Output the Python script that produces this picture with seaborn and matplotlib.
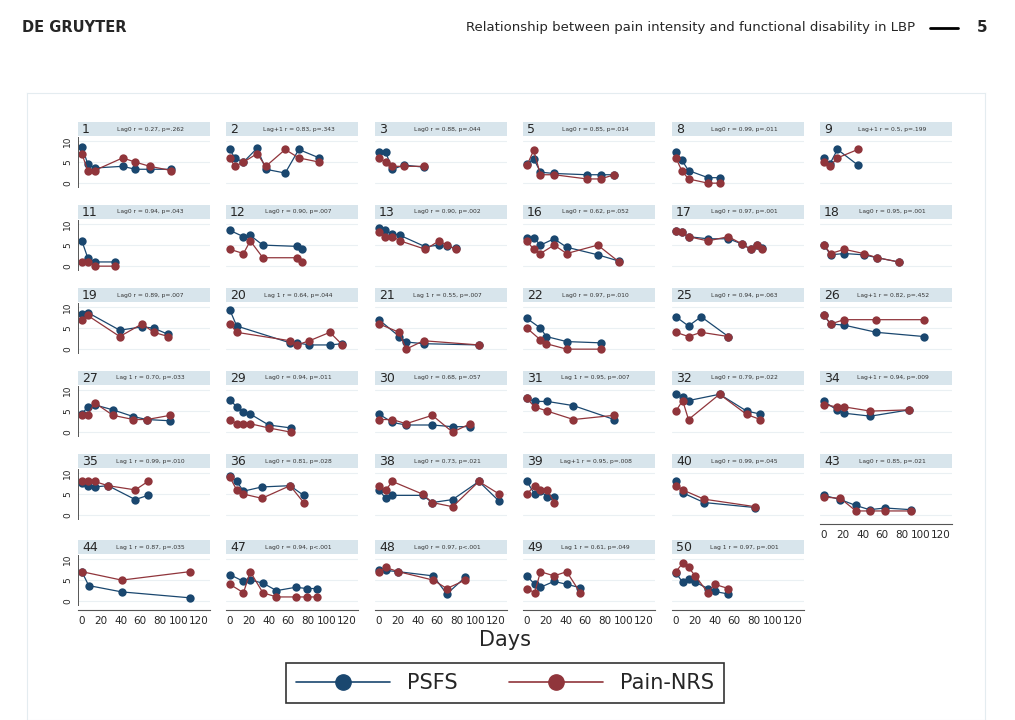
import numpy as np
import pandas as pd
import matplotlib
matplotlib.use("Agg")
import matplotlib.pyplot as plt
import seaborn as sns
from matplotlib.lines import Line2D

# ---- data (days, PSFS, Pain-NRS) ----
ids = [1, 2, 3, 5, 8, 9, 11, 12, 13, 16, 17, 18, 19, 20, 21, 22, 25, 26,
       27, 29, 30, 31, 32, 34, 35, 36, 38, 39, 40, 43, 44, 47, 48, 49, 50]
labels = {
    1: "Lag0 r = 0.27, p=.262", 2: "Lag+1 r = 0.83, p=.343", 3: "Lag0 r = 0.88, p=.044",
    5: "Lag0 r = 0.85, p=.014", 8: "Lag0 r = 0.99, p=.011", 9: "Lag+1 r = 0.5, p=.199",
    11: "Lag0 r = 0.94, p=.043", 12: "Lag0 r = 0.90, p=.007", 13: "Lag0 r = 0.90, p=.002",
    16: "Lag0 r = 0.62, p=.052", 17: "Lag0 r = 0.97, p=.001", 18: "Lag0 r = 0.95, p=.001",
    19: "Lag0 r = 0.89, p=.007", 20: "Lag 1 r = 0.64, p=.044", 21: "Lag 1 r = 0.55, p=.007",
    22: "Lag0 r = 0.97, p=.010", 25: "Lag0 r = 0.94, p=.063", 26: "Lag+1 r = 0.82, p=.452",
    27: "Lag 1 r = 0.70, p=.033", 29: "Lag0 r = 0.94, p=.011", 30: "Lag0 r = 0.68, p=.057",
    31: "Lag 1 r = 0.95, p=.007", 32: "Lag0 r = 0.79, p=.022", 34: "Lag+1 r = 0.94, p=.009",
    35: "Lag 1 r = 0.99, p=.010", 36: "Lag0 r = 0.81, p=.028", 38: "Lag0 r = 0.73, p=.021",
    39: "Lag+1 r = 0.95, p=.008", 40: "Lag0 r = 0.99, p=.045", 43: "Lag0 r = 0.85, p=.021",
    44: "Lag 1 r = 0.87, p=.035", 47: "Lag0 r = 0.94, p<.001", 48: "Lag0 r = 0.97, p<.001",
    49: "Lag 1 r = 0.61, p=.049", 50: "Lag 1 r = 0.97, p=.001",
}
psfs = {
    1: ([0, 6, 13, 42, 55, 70, 92], [8.7, 4.6, 3.6, 4, 3.3, 3.3, 3.3]),
    2: ([0, 5, 14, 28, 37, 57, 71, 92], [8, 6, 5, 8.3, 3.3, 2.4, 8, 6]),
    3: ([0, 7, 14, 26, 46], [7.3, 7.3, 3.3, 4.3, 3.8]),
    5: ([0, 7, 14, 28, 62, 76, 90], [4.5, 5.8, 2.6, 2.3, 2, 2, 2]),
    8: ([0, 6, 13, 33, 45], [7.5, 5.5, 3, 1.3, 1.3]),
    9: ([0, 6, 14, 35], [6, 4.5, 8, 4.3]),
    11: ([0, 6, 13, 34], [6, 2, 1, 1]),
    12: ([0, 14, 21, 34, 69, 74], [8.5, 7, 7.3, 5, 4.7, 4]),
    13: ([0, 6, 14, 22, 48, 62, 70, 79], [9, 8.5, 7.7, 7.3, 4.6, 5, 4.7, 4.3]),
    16: ([0, 7, 14, 28, 41, 73, 95], [6.7, 6.7, 5, 6.5, 4.5, 2.7, 1.2]),
    17: ([0, 6, 13, 33, 54, 68, 77, 84, 89], [8.3, 8, 7, 6.5, 6.5, 5.3, 4, 5, 4.3]),
    18: ([0, 7, 21, 41, 55, 77], [5, 2.7, 3, 2.7, 2, 1]),
    19: ([0, 6, 39, 62, 74, 89], [8.3, 8.7, 4.5, 5.3, 5, 3.5]),
    20: ([0, 7, 62, 69, 82, 103, 116], [9.3, 5.5, 1.5, 1.5, 1, 1, 1.3]),
    21: ([0, 21, 28, 46, 103], [7, 3, 1.7, 1.3, 1]),
    22: ([0, 14, 20, 41, 76], [7.3, 5, 3, 1.8, 1.5]),
    25: ([0, 13, 26, 54], [7.7, 5.5, 7.7, 3]),
    26: ([0, 7, 21, 54, 103], [8, 6, 5.7, 4, 3]),
    27: ([0, 6, 13, 32, 53, 67, 91], [4.3, 6, 6.5, 5.3, 3.7, 3, 2.7]),
    29: ([0, 7, 14, 21, 40, 63], [7.7, 6, 4.7, 4.3, 1.7, 1]),
    30: ([0, 14, 28, 55, 76, 94], [4.3, 2.3, 1.7, 1.7, 1.3, 1.3]),
    31: ([0, 8, 21, 48, 90], [8, 7.3, 7.3, 6.3, 3]),
    32: ([0, 7, 13, 45, 73, 87], [9, 8.3, 7.5, 9, 5, 4.3]),
    34: ([0, 14, 21, 48, 88], [7.3, 5.2, 4.5, 3.8, 5.3]),
    35: ([0, 6, 13, 27, 55, 68], [7.7, 7, 6.7, 7, 3.7, 4.7]),
    36: ([0, 7, 14, 33, 62, 76], [9.3, 8, 5.7, 6.7, 7, 4.7]),
    38: ([0, 7, 14, 45, 55, 76, 103, 124], [6, 4, 4.7, 4.7, 3, 3.7, 8, 3.3]),
    39: ([0, 8, 14, 21, 28], [8, 5, 5.8, 4.3, 4.3]),
    40: ([0, 7, 29, 82], [8, 5.3, 3, 1.8]),
    43: ([0, 17, 33, 47, 63, 90], [4.7, 3.7, 2.3, 1.3, 1.7, 1.3]),
    44: ([0, 7, 41, 111], [7, 3.7, 2.2, 0.8]),
    47: ([0, 14, 21, 34, 48, 68, 79, 90], [6.3, 4.7, 5, 4.3, 2.5, 3.3, 3, 3]),
    48: ([0, 7, 20, 56, 70, 89], [7.3, 7.3, 7, 6, 1.7, 5.7]),
    49: ([0, 8, 14, 28, 41, 55], [6, 4, 3.3, 4.7, 4, 3.2]),
    50: ([0, 7, 13, 20, 33, 40, 54], [6.7, 4.5, 5.3, 4.5, 3, 2.3, 1.7]),
}
pain = {
    1: ([0, 6, 13, 42, 55, 70, 92], [7, 3, 3, 6, 5, 4, 3]),
    2: ([0, 5, 14, 28, 37, 57, 71, 92], [6, 4, 5, 7, 4, 8, 6, 5]),
    3: ([0, 7, 14, 26, 46], [6, 5, 4, 4, 4]),
    5: ([0, 7, 14, 28, 62, 76, 90], [4.2, 7.8, 2, 2, 1, 1, 2]),
    8: ([0, 6, 13, 33, 45], [6, 3, 1, 0, 0]),
    9: ([0, 6, 14, 35], [5, 4, 6, 8]),
    11: ([0, 6, 13, 34], [1, 1, 0, 0]),
    12: ([0, 14, 21, 34, 69, 74], [4, 3, 6, 2, 2, 1]),
    13: ([0, 6, 14, 22, 48, 62, 70, 79], [8, 7, 7, 6, 4, 6, 5, 4]),
    16: ([0, 7, 14, 28, 41, 73, 95], [6, 4, 3, 5, 3, 5, 1]),
    17: ([0, 6, 13, 33, 54, 68, 77, 84, 89], [8.3, 8, 7, 6, 7, 5.3, 4, 5, 4]),
    18: ([0, 7, 21, 41, 55, 77], [5, 3, 4, 3, 2, 1]),
    19: ([0, 6, 39, 62, 74, 89], [7, 8, 3, 6, 4, 3]),
    20: ([0, 7, 62, 69, 82, 103, 116], [6, 4, 2, 1, 2, 4, 1]),
    21: ([0, 21, 28, 46, 103], [6, 4, 0, 2, 1]),
    22: ([0, 14, 20, 41, 76], [5, 2.2, 1.3, 0, 0]),
    25: ([0, 13, 26, 54], [4, 3, 4, 3]),
    26: ([0, 7, 21, 54, 103], [8, 6, 7, 7, 7]),
    27: ([0, 6, 13, 32, 53, 67, 91], [4, 4, 7, 4, 3, 3, 4]),
    29: ([0, 7, 14, 21, 40, 63], [3, 2, 2, 2, 1, 0]),
    30: ([0, 14, 28, 55, 76, 94], [3, 3, 2, 4, 0, 2]),
    31: ([0, 8, 21, 48, 90], [8, 6, 5, 3, 4]),
    32: ([0, 7, 13, 45, 73, 87], [5, 7.5, 3, 9, 4.2, 3]),
    34: ([0, 14, 21, 48, 88], [6.5, 6, 6, 5, 5.3]),
    35: ([0, 6, 13, 27, 55, 68], [8, 8, 8, 7, 6, 8]),
    36: ([0, 7, 14, 33, 62, 76], [9, 6, 5, 4, 7, 3]),
    38: ([0, 7, 14, 45, 55, 76, 103, 124], [7, 6, 8, 5, 3, 2, 8, 5]),
    39: ([0, 8, 14, 21, 28], [5, 7, 6, 6, 3]),
    40: ([0, 7, 29, 82], [7, 6, 3.8, 2]),
    43: ([0, 17, 33, 47, 63, 90], [4.3, 4, 1, 1, 1, 1]),
    44: ([0, 41, 111], [7, 5, 7]),
    47: ([0, 14, 21, 34, 48, 68, 79, 90], [4, 2, 7, 2, 1, 1, 1, 1]),
    48: ([0, 7, 20, 56, 70, 89], [7, 8, 7, 5, 3, 5]),
    49: ([0, 8, 14, 28, 41, 55], [3, 2, 7, 6, 7, 2]),
    50: ([0, 7, 13, 20, 33, 40, 54], [7, 9, 8, 6, 2, 4, 3]),
}

rows = []
for pid in ids:
    for d, v in zip(*psfs[pid]):
        rows.append((pid, d, v, "PSFS"))
    for d, v in zip(*pain[pid]):
        rows.append((pid, d, v, "Pain-NRS"))
df = pd.DataFrame(rows, columns=["id", "day", "score", "measure"])

palette = {"PSFS": "#1a476f", "Pain-NRS": "#90353b"}

sns.set_style("white")
W, H = 1015, 720
fig = plt.figure(figsize=(W / 100, H / 100), dpi=100)

def fr(x, y, w, h):
    return [x / W, 1 - (y + h) / H, w / W, h / H]

# header
fig.text(22 / W, 1 - 28 / H, "DE GRUYTER", fontsize=10.5, fontweight="bold", va="center")
fig.text(915 / W, 1 - 28 / H, "Relationship between pain intensity and functional disability in LBP",
         fontsize=9.5, ha="right", va="center")
fig.add_artist(Line2D([930 / W, 958 / W], [1 - 28 / H] * 2, color="black", lw=2))
fig.text(982 / W, 1 - 28 / H, "5", fontsize=11, fontweight="bold", ha="center", va="center")

# outer frame of the figure panel
frame = fig.add_axes(fr(27, 93, 958, 627))
frame.set_xticks([]); frame.set_yticks([])
for s in frame.spines.values():
    s.set_color("#e4ecf0")
frame.set_zorder(-5)

col_x = [78, 226, 375, 523, 672, 820]
row_y = [122, 205, 288, 371, 454, 540]
bottom_ids = {43, 44, 47, 48, 49, 50}

for k, pid in enumerate(ids):
    r, c = divmod(k, 6)
    x0, y0 = col_x[c], row_y[r]
    strip = fig.add_axes(fr(x0, y0, 132, 14))
    strip.set_facecolor("#d8e5ec")
    strip.set_xticks([]); strip.set_yticks([])
    for s in strip.spines.values():
        s.set_visible(False)
    strip.text(0.03, 0.45, str(pid), fontsize=9, va="center", transform=strip.transAxes)
    strip.text(0.55, 0.5, labels[pid], fontsize=4.3, va="center", ha="center",
               color="#333333", transform=strip.transAxes)

    ax = fig.add_axes(fr(x0, y0 + 14, 132, 56))
    sub = df[df["id"] == pid]
    sns.lineplot(data=sub, x="day", y="score", hue="measure", palette=palette,
                 marker="o", markersize=6, markeredgewidth=0, linewidth=0.9,
                 legend=False, ax=ax, estimator=None, sort=False)
    ax.set_xlim(-4, 132)
    ax.set_ylim(-2.1, 11.2)
    ax.set_xlabel(""); ax.set_ylabel("")
    for yv in [0, 5, 10]:
        ax.axhline(yv, color="#eaf0f3", lw=0.8, zorder=0)
    for s in ax.spines.values():
        s.set_visible(False)
    if c == 0:
        ax.spines["left"].set_visible(True)
        ax.spines["left"].set_bounds(-1, 11)
        ax.spines["left"].set_color("#555555")
        ax.spines["left"].set_linewidth(0.7)
        ax.set_yticks([0, 5, 10])
        ax.set_yticklabels(["0", "5", "10"], rotation=90, va="center", fontsize=6.5)
        ax.tick_params(axis="y", length=3, width=0.6, pad=1)
    else:
        ax.set_yticks([])
    if pid in bottom_ids:
        ax.spines["bottom"].set_visible(True)
        ax.spines["bottom"].set_color("#555555")
        ax.spines["bottom"].set_linewidth(0.8)
        ax.set_xticks([0, 20, 40, 60, 80, 100, 120])
        ax.tick_params(axis="x", labelsize=7.5, length=3, width=0.6, pad=1)
    else:
        ax.set_xticks([])

fig.text(505 / W, 1 - 640 / H, "Days", fontsize=15, ha="center", va="center")

handles = [Line2D([], [], color=palette["PSFS"], marker="o", markersize=11, lw=1.2),
           Line2D([], [], color=palette["Pain-NRS"], marker="o", markersize=11, lw=1.2)]
leg = fig.legend(handles, ["PSFS", "Pain-NRS"], loc="center", ncol=2,
                 bbox_to_anchor=(505 / W, 1 - 683 / H), fontsize=15, frameon=True,
                 fancybox=False, edgecolor="black", handlelength=4.5, columnspacing=2.5,
                 borderpad=0.5)
leg.get_frame().set_linewidth(1.2)

fig.savefig("out.png", dpi=100)
